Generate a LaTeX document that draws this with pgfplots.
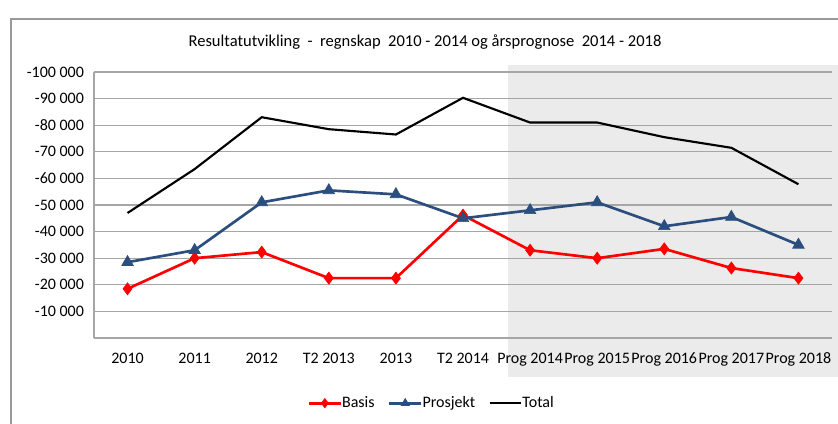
\documentclass[border=0pt]{standalone}
\usepackage{fontspec}
\setmainfont{Carlito}
\usepackage{pgfplots}
\usepackage{pgfplotstable}
\pgfplotsset{compat=1.18}
\definecolor{basisred}{HTML}{FF0000}
\definecolor{prosjblue}{HTML}{2B4E7E}
\definecolor{gridgray}{HTML}{A6A6A6}
\definecolor{fcgray}{HTML}{EBEBEB}

% x = category index
\pgfplotstableread{
x basis prosjekt total
0 -18500 -28500 -47000
1 -30000 -33000 -63500
2 -32300 -51000 -83000
3 -22500 -55500 -78500
4 -22500 -54000 -76500
5 -46200 -45000 -90300
6 -33000 -48000 -81000
7 -30000 -51000 -81000
8 -33500 -42000 -75500
9 -26300 -45500 -71500
10 -22500 -35000 -57800
}\resdata

\begin{document}
\begin{tikzpicture}[x=0.75pt,y=0.75pt,font=\fontsize{12}{14}\selectfont]
% picture is 838 x 424 px, y counted from the bottom
\useasboundingbox (0,0) rectangle (838,424);
\clip (0,0) rectangle (838,424);
% outer chart frame
\draw[gray!80, line width=0.8pt] (11,-5) -- (11,405) -- (850,405);
% forecast shading
\fill[fcgray] (508,47) rectangle (850,359);
% title
\node[font=\fontsize{12.4}{14}\selectfont] at (425,382)
  {Resultatutvikling~~-~~regnskap~~2010 - 2014 og årsprognose~~2014 - 2018};
\coordinate (axpos) at (94,86);

\begin{axis}[
  at={(axpos)}, anchor=south west,
  scale only axis, width=553.5pt, height=199.5pt,
  xmin=-0.5, xmax=10.5,
  ymin=-100000, ymax=0, y dir=reverse,
  scaled y ticks=false,
  axis x line*=bottom, axis y line*=left,
  axis line style={gridgray, line width=1pt},
  xtick={0,...,10},
  xticklabels={2010,2011,2012,T2 2013,2013,T2 2014,Prog 2014,Prog 2015,Prog 2016,Prog 2017,Prog 2018},
  ytick={-100000,-90000,...,-10000},
  yticklabels={-100 000,-90 000,-80 000,-70 000,-60 000,-50 000,-40 000,-30 000,-20 000,-10 000},
  major tick length=0pt,
  ymajorgrids, grid style={gridgray, line width=1pt},
  xticklabel style={yshift=-8pt, text height=1.6ex, text depth=0.5ex, inner xsep=0pt},
  yticklabel style={xshift=-4pt},
  legend style={at={(0.458,-0.245)}, anchor=center, draw=none, fill=none,
    legend columns=3, /tikz/every even column/.append style={column sep=8pt},
    /tikz/every odd column/.append style={column sep=-2pt}},
  legend image code/.code={
    \draw[mark repeat=2,mark phase=2,mark size=3.5pt] plot coordinates {(0cm,0cm) (0.42cm,0cm) (0.84cm,0cm)};},
]
\addplot[basisred, line width=2pt, mark=diamond*, mark size=4.5pt,
  mark options={solid, line width=0.5pt}] table[x=x,y=basis] {\resdata};
\addlegendentry{Basis}
\addplot[prosjblue, line width=2pt, mark=triangle*, mark size=5pt,
  mark options={solid, line width=0.5pt}] table[x=x,y=prosjekt] {\resdata};
\addlegendentry{Prosjekt}
\addplot[black, line width=1.6pt] table[x=x,y=total] {\resdata};
\addlegendentry{Total}
\end{axis}
\end{tikzpicture}
\end{document}
